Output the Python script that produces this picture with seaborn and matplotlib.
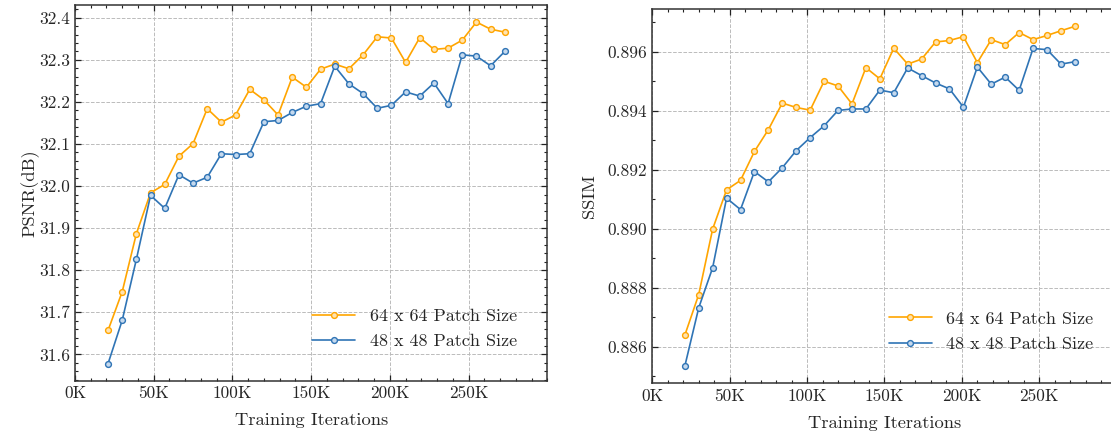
import numpy as np
import pandas as pd
import matplotlib
matplotlib.use('Agg')
import matplotlib.pyplot as plt
import seaborn as sns
from matplotlib.ticker import MultipleLocator, AutoMinorLocator, FuncFormatter

sns.set_style('ticks')
plt.rcParams['font.family'] = 'serif'
plt.rcParams['font.serif'] = ['cmr10', 'DejaVu Serif']
plt.rcParams['mathtext.fontset'] = 'cm'
plt.rcParams['axes.formatter.use_mathtext'] = True
plt.rcParams['axes.unicode_minus'] = False

# training iterations (K)
iters_k = [21, 30, 39, 48, 57, 66, 75, 84, 93, 102, 111, 120, 129, 138, 147,
           156, 165, 174, 183, 192, 201, 210, 219, 228, 237, 246, 255, 264, 273]

psnr_64 = [31.657, 31.749, 31.887, 31.984, 32.004, 32.071, 32.101, 32.184, 32.152, 32.169,
           32.230, 32.205, 32.169, 32.259, 32.235, 32.278, 32.290, 32.279, 32.312, 32.355,
           32.352, 32.294, 32.353, 32.325, 32.328, 32.347, 32.390, 32.373, 32.366]
psnr_48 = [31.578, 31.681, 31.826, 31.978, 31.947, 32.027, 32.007, 32.021, 32.077, 32.075,
           32.077, 32.153, 32.156, 32.175, 32.190, 32.196, 32.285, 32.243, 32.220, 32.185,
           32.192, 32.224, 32.214, 32.245, 32.196, 32.312, 32.309, 32.286, 32.320]

ssim_64 = [0.88639, 0.88777, 0.88999, 0.89132, 0.89164, 0.89262, 0.89336, 0.89426, 0.89411, 0.89402,
           0.89500, 0.89484, 0.89423, 0.89546, 0.89508, 0.89612, 0.89558, 0.89575, 0.89633, 0.89638,
           0.89651, 0.89563, 0.89641, 0.89624, 0.89665, 0.89641, 0.89655, 0.89671, 0.89686]
ssim_48 = [0.88534, 0.88732, 0.88868, 0.89104, 0.89065, 0.89194, 0.89159, 0.89207, 0.89265, 0.89309,
           0.89349, 0.89401, 0.89406, 0.89406, 0.89470, 0.89461, 0.89545, 0.89519, 0.89494, 0.89474,
           0.89412, 0.89548, 0.89490, 0.89514, 0.89469, 0.89611, 0.89607, 0.89558, 0.89566]

labels = ['64 x 64 Patch Size', '48 x 48 Patch Size']
colors = ['#FFA500', '#2f74b5']
faces = ['#ffe3b0', '#c5d9ee']

x = np.array(iters_k) * 1000

fig = plt.figure(figsize=(11.11, 4.32), dpi=100)
ax1 = fig.add_axes([0.0675, 0.1188, 0.4251, 0.8697])
ax2 = fig.add_axes([0.5871, 0.1127, 0.418, 0.8657])


def draw(ax, ys, ylabel, minor_div, legend_anchor, ypad):
    for y, lab, c, fc in zip(ys, labels, colors, faces):
        df = pd.DataFrame({'iter': x, 'val': y})
        sns.lineplot(data=df, x='iter', y='val', ax=ax, color=c, marker='o',
                     markersize=4.2, markerfacecolor=fc, markeredgecolor=c,
                     markeredgewidth=1.0, linewidth=1.2, label=lab)
    ax.set_xlim(0, 300000)
    ax.set_xticks(range(0, 300000, 50000))
    ax.xaxis.set_minor_locator(MultipleLocator(10000))
    ax.xaxis.set_major_formatter(FuncFormatter(lambda v, p: f'{int(v / 1000)}K'))
    ax.yaxis.set_minor_locator(AutoMinorLocator(minor_div))
    ax.tick_params(which='both', direction='in', top=True, right=True, labelsize=12.5,
                   color='#222222')
    ax.tick_params(which='major', length=4, width=0.9)
    ax.tick_params(which='minor', length=2, width=0.8)
    ax.grid(True, which='major', linestyle='--', color='#bbbbbb', linewidth=0.7)
    for s in ax.spines.values():
        s.set_linewidth(1.1)
        s.set_color('#333333')
    ax.set_xlabel('Training Iterations', fontsize=13.3, labelpad=8.5)
    ax.set_ylabel(ylabel, fontsize=13.3, labelpad=ypad)
    ax.legend(loc='lower right', bbox_to_anchor=legend_anchor, frameon=False,
              fontsize=13, handlelength=2.4, labelspacing=0.55)


draw(ax1, [psnr_64, psnr_48], 'PSNR(dB)', 5, (0.97, 0.04), 0)
ax1.yaxis.set_major_formatter(FuncFormatter(lambda v, p: f'{v:.1f}'))
draw(ax2, [ssim_64, ssim_48], 'SSIM', 2, (0.985, 0.04), 8)
ax2.yaxis.set_major_formatter(FuncFormatter(lambda v, p: f'{v:.3f}'))

fig.savefig('out.png', dpi=100)
